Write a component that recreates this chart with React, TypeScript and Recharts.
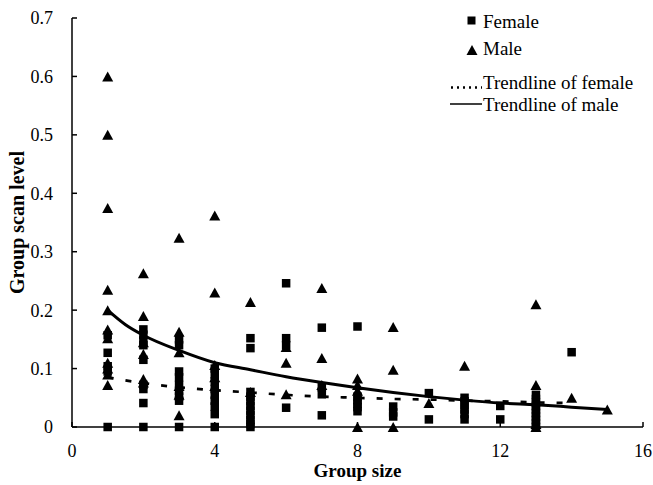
import React from 'react';
import { ComposedChart, Scatter, Line, XAxis, YAxis, Legend, Label } from 'recharts';

// Female observations (group size, scan level)
const femaleX1 = [0.157, 0.127, 0.104, 0.095, 0];
const femaleX2 = [0.167, 0.158, 0.148, 0.14, 0.115, 0.072, 0.065, 0.041, 0];
const femaleX3 = [0.15, 0.14, 0.095, 0.085, 0.072, 0.062, 0.052, 0.045, 0];
const femaleX4 = [0.1, 0.09, 0.078, 0.065, 0.055, 0.045, 0.035, 0.022, 0];
const femaleX5 = [0.152, 0.135, 0.06, 0.052, 0.044, 0.036, 0.028, 0.02, 0.012, 0.005, 0];
const femaleX6 = [0.246, 0.152, 0.14, 0.033];
const femaleX7 = [0.17, 0.068, 0.056, 0.02];
const femaleX8 = [0.172, 0.052, 0.046, 0.04, 0.034, 0.027];
const femaleX9 = [0.035, 0.025, 0.018];
const femaleX10 = [0.058, 0.013];
const femaleX11 = [0.05, 0.044, 0.037, 0.03, 0.022, 0.013];
const femaleX12 = [0.036, 0.013];
const femaleX13 = [0.055, 0.048, 0.042, 0.036, 0.03, 0.024, 0.018, 0.012, 0.006, 0];
const femaleX14 = [0.128];

// Male observations
const maleX1 = [0.6, 0.5, 0.375, 0.235, 0.2, 0.167, 0.152, 0.11, 0.1, 0.09, 0.072];
const maleX2 = [0.263, 0.19, 0.145, 0.125, 0.082, 0.076];
const maleX3 = [0.324, 0.163, 0.128, 0.07, 0.055, 0.02];
const maleX4 = [0.362, 0.23, 0.106, 0.085, 0.07];
const maleX5 = [0.214, 0.06];
const maleX6 = [0.137, 0.11, 0.056];
const maleX7 = [0.238, 0.118, 0.072];
const maleX8 = [0.083, 0.072, 0.062, 0];
const maleX9 = [0.171, 0.098, 0];
const maleX10 = [0.041];
const maleX11 = [0.105];
const maleX13 = [0.21, 0.072, 0.005, 0];
const maleX14 = [0.05];
const maleX15 = [0.03];

// Trendlines
const femaleTrendX = [1, 2, 3, 4, 5, 6, 7, 8, 9, 10, 11, 12, 13, 14];
const femaleTrendY = [0.085, 0.075, 0.068, 0.063, 0.059, 0.055, 0.052, 0.05, 0.048, 0.047, 0.045, 0.044, 0.042, 0.041];
const maleTrendX = [1, 1.5, 2, 3, 4, 5, 6, 7, 8, 9, 10, 11, 12, 13, 14, 15];
const maleTrendY = [0.2, 0.175, 0.157, 0.131, 0.11, 0.098, 0.086, 0.076, 0.067, 0.059, 0.052, 0.046, 0.041, 0.038, 0.034, 0.03];

const xTicks = [0, 4, 8, 12, 16];
const yTicks = [0, 0.1, 0.2, 0.3, 0.4, 0.5, 0.6, 0.7];

const build = (groups: [number, number[]][]) =>
  groups.flatMap(([x, ys]) => ys.map((y) => ({ x, y })));

const femaleData = build([
  [1, femaleX1], [2, femaleX2], [3, femaleX3], [4, femaleX4], [5, femaleX5],
  [6, femaleX6], [7, femaleX7], [8, femaleX8], [9, femaleX9], [10, femaleX10],
  [11, femaleX11], [12, femaleX12], [13, femaleX13], [14, femaleX14],
]);
const maleData = build([
  [1, maleX1], [2, maleX2], [3, maleX3], [4, maleX4], [5, maleX5],
  [6, maleX6], [7, maleX7], [8, maleX8], [9, maleX9], [10, maleX10],
  [11, maleX11], [13, maleX13], [14, maleX14], [15, maleX15],
]);
const femaleTrend = femaleTrendX.map((x, i) => ({ x, y: femaleTrendY[i] }));
const maleTrend = maleTrendX.map((x, i) => ({ x, y: maleTrendY[i] }));

const FONT = '"Liberation Serif", "Times New Roman", serif';

const SquareShape = (props: any) => {
  const { cx, cy } = props;
  if (cx == null || cy == null) return null;
  return <rect x={cx - 4.25} y={cy - 4.25} width={8.5} height={8.5} fill="#000" />;
};

const TriangleShape = (props: any) => {
  const { cx, cy } = props;
  if (cx == null || cy == null) return null;
  return <polygon points={`${cx - 5.5},${cy + 5} ${cx + 5.5},${cy + 5} ${cx},${cy - 5}`} fill="#000" />;
};

const LegendContent = () => (
  <svg width={213} height={125} style={{ display: 'block' }}>
    <g fontFamily={FONT} fontSize={19} fill="#000">
      <rect x={27.5} y={16.5} width={8} height={8} fill="#000" />
      <text x={43} y={28}>Female</text>
      <polygon points="26.5,55 37.5,55 32,45" fill="#000" />
      <text x={43} y={55}>Male</text>
      <line x1={11} y1={87.5} x2={42} y2={87.5} stroke="#000" strokeWidth={2.5} strokeDasharray="2 4" />
      <text x={43} y={89}>Trendline of female</text>
      <line x1={10} y1={104} x2={42} y2={104} stroke="#000" strokeWidth={1.5} />
      <text x={43} y={111}>Trendline of male</text>
    </g>
  </svg>
);

export default function App() {
  return (
    <div style={{ position: 'absolute', left: 0, top: 0 }}>
      <ComposedChart
        width={653}
        height={485}
        margin={{ top: 18, right: 10, bottom: 0, left: 0 }}
        style={{ fontFamily: FONT }}
      >
        <XAxis
          type="number"
          dataKey="x"
          domain={[0, 16]}
          ticks={xTicks}
          height={58}
          tickSize={-5}
          tickMargin={22}
          axisLine={{ stroke: '#000', strokeWidth: 1.5 }}
          tickLine={{ stroke: '#000', strokeWidth: 1.5 }}
          tick={{ fill: '#000', fontSize: 18, fontFamily: FONT }}
        >
          <Label
            value="Group size"
            position="insideBottom"
            offset={8}
            style={{ fontFamily: FONT, fontSize: 19, fontWeight: 'bold', fill: '#000' }}
          />
        </XAxis>
        <YAxis
          type="number"
          dataKey="y"
          domain={[0, 0.7]}
          ticks={yTicks}
          width={72}
          tickSize={-5}
          tickMargin={24}
          axisLine={{ stroke: '#000', strokeWidth: 1.5 }}
          tickLine={{ stroke: '#000', strokeWidth: 1.5 }}
          tick={{ fill: '#000', fontSize: 18, fontFamily: FONT }}
        >
          <Label
            value="Group scan level"
            angle={-90}
            position="insideLeft"
            offset={17}
            style={{ fontFamily: FONT, fontSize: 20, fontWeight: 'bold', fill: '#000', textAnchor: 'middle' }}
          />
        </YAxis>
        <Legend
          layout="vertical"
          align="center"
          verticalAlign="middle"
          content={LegendContent}
          wrapperStyle={{ left: 440, top: 0, width: 213, height: 125 }}
        />
        <Scatter name="Female" data={femaleData} dataKey="y" shape={SquareShape} isAnimationActive={false} />
        <Scatter name="Male" data={maleData} dataKey="y" shape={TriangleShape} isAnimationActive={false} />
        <Line
          name="Trendline of female"
          data={femaleTrend}
          dataKey="y"
          type="monotone"
          stroke="#000"
          strokeWidth={2.7}
          strokeDasharray="6 12"
          dot={false}
          activeDot={false}
          isAnimationActive={false}
        />
        <Line
          name="Trendline of male"
          data={maleTrend}
          dataKey="y"
          type="monotone"
          stroke="#000"
          strokeWidth={3}
          dot={false}
          activeDot={false}
          isAnimationActive={false}
        />
      </ComposedChart>
    </div>
  );
}
